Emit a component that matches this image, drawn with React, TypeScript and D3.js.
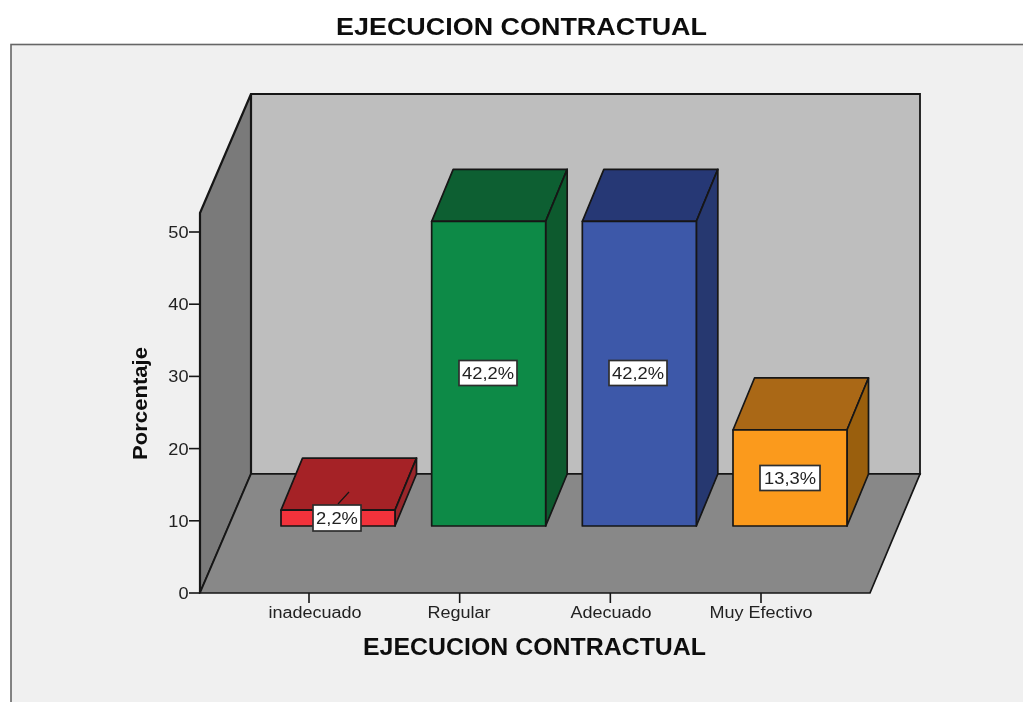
import React from "react";
import * as d3 from "d3";

const categories = ["inadecuado", "Regular", "Adecuado", "Muy Efectivo"];
const percentages = [2.2, 42.2, 42.2, 13.3];
const percentLabels = ["2,2%", "42,2%", "42,2%", "13,3%"];
const frontColors = ["#f2333b", "#0e8a46", "#3d58a9", "#fb9a1d"];
const topColors = ["#a52326", "#0a5f30", "#283874", "#aa6713"];
const sideColors = ["#98262a", "#0a5a2e", "#27376f", "#9a5f10"];
const yTicks = [0, 10, 20, 30, 40, 50];
const chartTitle = "EJECUCION CONTRACTUAL";
const yTitle = "Porcentaje";

const FONT = "'Liberation Sans', Arial, sans-serif";
const INK = "#161616";

export default function App() {
  const y = d3.scaleLinear().domain([0, 50]).range([593, 232]);
  const x = d3.scalePoint<string>().domain(categories).range([309, 761]);
  const wallTop = y(52.63);
  const floor = { x0: 200, x1: 870, y0: y(0), dx: 51, dy: -119 };
  const barWidth = 114;
  const barFront = { dx: 29, dy: -67 };
  const barDepth = { dx: 21.5, dy: -52 };
  const poly = (pts: number[][]) => d3.line()(pts as [number, number][]) + "Z";
  const h = (v: number) => y(0) - y(v);

  const labelBoxes = [
    { cx: 337, cy: 518, w: 48, h: 26 },
    { cx: 488, cy: 373, w: 58, h: 25 },
    { cx: 638, cy: 373, w: 58, h: 25 },
    { cx: 790, cy: 478, w: 60, h: 25 },
  ];
  const tickLabelCentres = [315, 459, 611, 761];

  return (
    <svg
      width={1023}
      height={702}
      style={{ position: "absolute", left: 0, top: 0, display: "block", fontFamily: FONT }}
    >
      <defs>
        <filter id="soft" x="0" y="0" width="100%" height="100%">
          <feGaussianBlur stdDeviation="0.45" />
        </filter>
      </defs>
      <g filter="url(#soft)">
        <rect x={0} y={0} width={1023} height={702} fill="#ffffff" />
        <rect x={11} y={44.5} width={1030} height={680} fill="#f0f0f0" stroke="#666" strokeWidth={1.6} />
        <text
          x={336}
          y={34.5}
          fontSize={23}
          fontWeight={700}
          fill="#111"
          textLength={371}
          lengthAdjust="spacingAndGlyphs"
        >
          {chartTitle}
        </text>

        {/* back wall */}
        <path
          d={poly([
            [floor.x0 + floor.dx, wallTop + floor.dy],
            [floor.x1 + floor.dx - 1, wallTop + floor.dy],
            [floor.x1 + floor.dx - 1, floor.y0 + floor.dy],
            [floor.x0 + floor.dx, floor.y0 + floor.dy],
          ])}
          fill="#bebebe"
          stroke={INK}
          strokeWidth={1.8}
        />
        {/* left wall */}
        <path
          d={poly([
            [floor.x0, wallTop],
            [floor.x0 + floor.dx, wallTop + floor.dy],
            [floor.x0 + floor.dx, floor.y0 + floor.dy],
            [floor.x0, floor.y0],
          ])}
          fill="#7a7a7a"
          stroke={INK}
          strokeWidth={2.2}
        />
        {/* floor */}
        <path
          d={poly([
            [floor.x0, floor.y0],
            [floor.x0 + floor.dx, floor.y0 + floor.dy],
            [floor.x1 + floor.dx - 1, floor.y0 + floor.dy],
            [floor.x1, floor.y0],
          ])}
          fill="#888888"
          stroke={INK}
          strokeWidth={1.7}
        />

        {/* y axis */}
        {yTicks.map((t) => (
          <g key={t}>
            <line x1={189} x2={200} y1={y(t)} y2={y(t)} stroke={INK} strokeWidth={1.6} />
            <text
              transform={`translate(188.5,${y(t) + 6}) scale(1.1,1)`}
              textAnchor="end"
              fontSize={16.5}
              fill="#222"
            >
              {t}
            </text>
          </g>
        ))}
        <text
          transform="translate(147,403.5) rotate(-90)"
          textAnchor="middle"
          fontSize={21}
          fontWeight={700}
          fill="#111"
          textLength={113}
          lengthAdjust="spacingAndGlyphs"
        >
          {yTitle}
        </text>

        {/* x axis */}
        {categories.map((c, i) => (
          <g key={c}>
            <line x1={x(c)!} x2={x(c)!} y1={593} y2={603} stroke={INK} strokeWidth={1.6} />
            <text
              transform={`translate(${tickLabelCentres[i]},617.5) scale(1.1,1)`}
              textAnchor="middle"
              fontSize={16.4}
              fill="#222"
            >
              {c}
            </text>
          </g>
        ))}
        <text
          x={363}
          y={655}
          fontSize={23}
          fontWeight={700}
          fill="#111"
          textLength={343}
          lengthAdjust="spacingAndGlyphs"
        >
          {chartTitle}
        </text>

        {/* bars */}
        {categories.map((c, i) => {
          const left = (x(c) as number) + barFront.dx - barWidth / 2 + 0;
          const right = left + barWidth;
          const base = y(0) + barFront.dy;
          const top = base - h(percentages[i]);
          const { dx, dy } = barDepth;
          return (
            <g key={c} stroke={INK} strokeWidth={1.7} strokeLinejoin="round">
              <path
                d={poly([[left, top], [right, top], [right + dx, top + dy], [left + dx, top + dy]])}
                fill={topColors[i]}
              />
              <path
                d={poly([[right, top], [right + dx, top + dy], [right + dx, base + dy], [right, base]])}
                fill={sideColors[i]}
              />
              <rect x={left} y={top} width={barWidth} height={base - top} fill={frontColors[i]} />
            </g>
          );
        })}

        {/* leader of the first label */}
        <line x1={338} y1={504} x2={349} y2={492} stroke={INK} strokeWidth={1.2} />

        {/* value labels */}
        {percentLabels.map((l, i) => {
          const b = labelBoxes[i];
          return (
            <g key={i}>
              <rect
                x={b.cx - b.w / 2}
                y={b.cy - b.h / 2}
                width={b.w}
                height={b.h}
                fill="#ffffff"
                stroke="#2e2e2e"
                strokeWidth={1.7}
              />
              <text
                transform={`translate(${b.cx},${b.cy + 6}) scale(1.08,1)`}
                textAnchor="middle"
                fontSize={17}
                fill="#222"
              >
                {l}
              </text>
            </g>
          );
        })}
      </g>
    </svg>
  );
}
